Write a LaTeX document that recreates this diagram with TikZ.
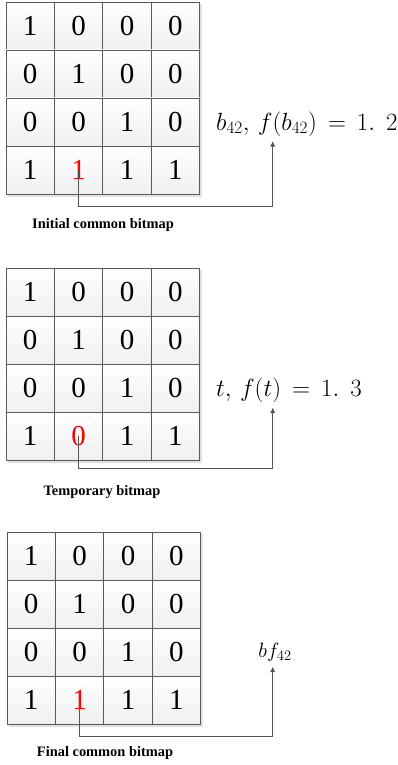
\documentclass[tikz,border=0pt]{standalone}
\usepackage{fontspec}
\setmainfont{Liberation Serif}
\usetikzlibrary{arrows.meta}
\definecolor{edge}{RGB}{90,90,90}
\definecolor{conn}{RGB}{85,85,85}
\tikzset{
  cellbox/.style={draw=edge, line width=0.9pt, top color=white, bottom color=black!6,
    minimum width=48.4pt, minimum height=48pt, inner sep=0pt, outer sep=0pt,
    font=\fontsize{29}{32}\selectfont},
  shadowbox/.style={fill=black!12, draw=none},
  connline/.style={draw=conn, line width=0.8pt},
  connarrow/.style={connline, -{Triangle[length=5pt,width=4.5pt]}},
  lab/.style={inner sep=0pt, font=\fontsize{25}{29}\selectfont},
  labsmall/.style={inner sep=0pt, font=\fontsize{21}{24}\selectfont},
  title/.style={inner sep=0pt, font=\fontsize{14.4}{16}\selectfont\bfseries},
}
\newcommand{\R}[1]{\textcolor{red}{#1}}
\newcommand{\bitgrid}[4]{% name, left x, top y, values
  \fill[shadowbox] (#2+2,-#3-2) rectangle (#2+193.6+2.5,-#3-192-2.5);
  \foreach \v [count=\i from 0] in {#4} {
    \pgfmathtruncatemacro{\col}{mod(\i,4)}
    \pgfmathtruncatemacro{\row}{int(\i/4)}
    \node[cellbox] (#1c\i) at (#2+24.2+\col*48.4, -#3-24-\row*48) {\v};
  }
}
\begin{document}
\begin{tikzpicture}[x=1pt,y=1pt]
\useasboundingbox (0,0) rectangle (397,-765);
% grid 1
\node[lab, anchor=base west] (la) at (216,-130) {$b_{42},\, f(b_{42})\,=\,1.\;\,2$};
\bitgrid{ga}{6}{2}{1,0,0,0,0,1,0,0,0,0,1,0,1,\R{1},1,1}
\coordinate (ta) at (272.7,-141.5);
\coordinate (ka) at (272.7,-206);
\draw[connarrow] (gac13.center) -- (gac13.center |- ka) -- (ka) -- (ta);
\node[title] (tta) at (103,-225) {Initial common bitmap};
% grid 2
\node[lab, anchor=base west] (lb) at (216,-396) {$t,\, f(t)\,=\,1.\;\,3$};
\bitgrid{gb}{6}{268}{1,0,0,0,0,1,0,0,0,0,1,0,1,\R{0},1,1}
\coordinate (tb) at (272.7,-408);
\coordinate (kb) at (272.7,-468.7);
\draw[connarrow] (gbc13.center) -- (gbc13.center |- kb) -- (kb) -- (tb);
\node[title] (ttb) at (102,-492) {Temporary bitmap};
% grid 3
\node[labsmall, anchor=base] (lc) at (275,-657) {$bf_{42}$};
\bitgrid{gc}{7}{532}{1,0,0,0,0,1,0,0,0,0,1,0,1,\R{1},1,1}
\coordinate (tc) at (272.7,-667);
\coordinate (kc) at (272.7,-736);
\draw[connarrow] (gcc13.center) -- (gcc13.center |- kc) -- (kc) -- (tc);
\node[title] (ttc) at (105,-753) {Final common bitmap};
\end{tikzpicture}
\end{document}
